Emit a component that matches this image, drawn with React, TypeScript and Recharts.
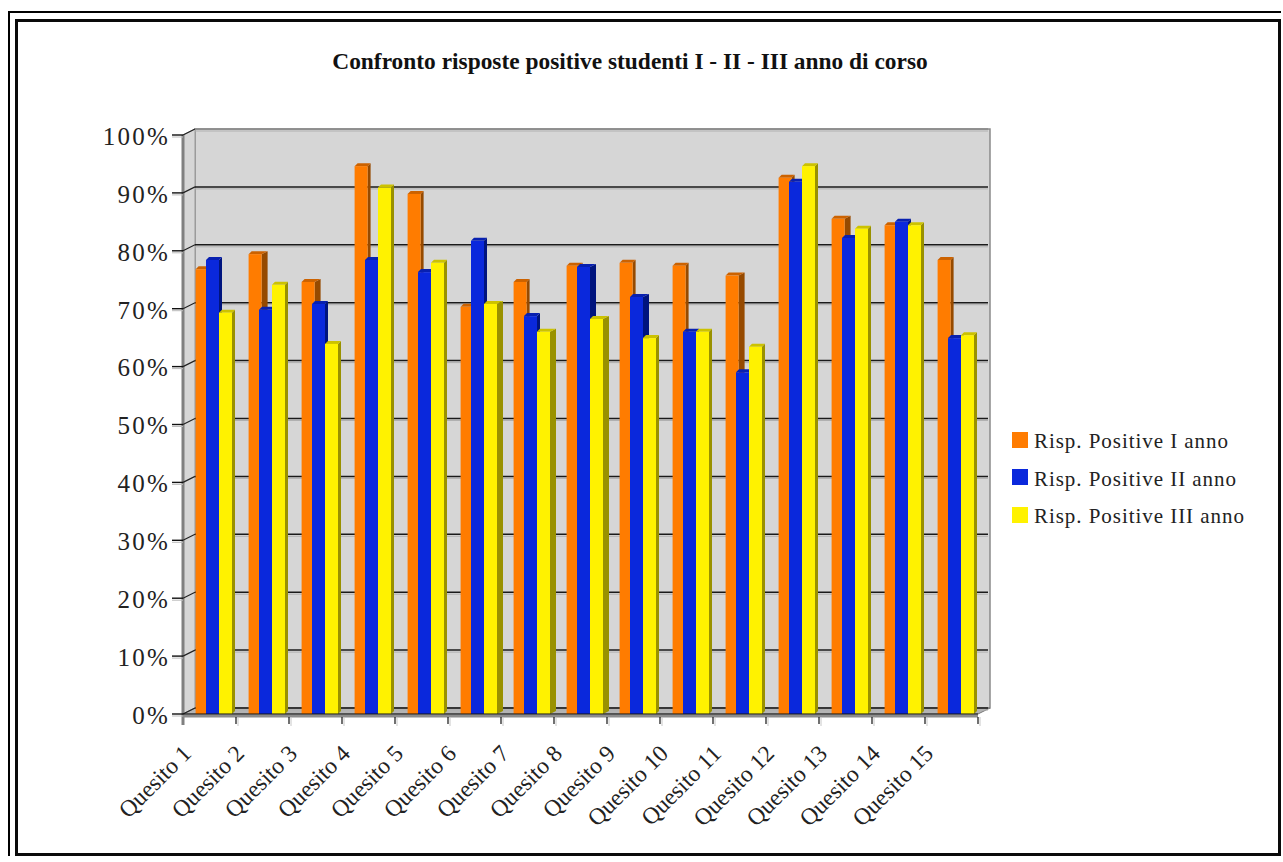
import React from 'react';
import { BarChart, Bar, XAxis, YAxis, CartesianGrid, Legend, usePlotArea } from 'recharts';

const categories = ['Quesito 1', 'Quesito 2', 'Quesito 3', 'Quesito 4', 'Quesito 5', 'Quesito 6', 'Quesito 7', 'Quesito 8', 'Quesito 9', 'Quesito 10', 'Quesito 11', 'Quesito 12', 'Quesito 13', 'Quesito 14', 'Quesito 15'];
const annoI = [76.3, 78.9, 74.1, 94.1, 89.3, 69.8, 74.1, 76.9, 77.4, 76.9, 75.2, 92.1, 85, 83.9, 77.9];
const annoII = [77.9, 69.3, 70.3, 77.9, 75.8, 81.2, 68.2, 76.7, 71.5, 65.5, 58.5, 91.4, 81.7, 84.5, 64.4];
const annoIII = [68.8, 73.6, 63.4, 90.4, 77.4, 70.3, 65.5, 67.7, 64.4, 65.5, 62.9, 94.1, 83.3, 83.9, 64.9];
const percentTicks = [0, 10, 20, 30, 40, 50, 60, 70, 80, 90, 100];

const data = categories.map((name, i) => ({ name, annoI: annoI[i], annoII: annoII[i], annoIII: annoIII[i] }));

const FONT = '"Liberation Serif", serif';
const DEPTH_X = 12;
const DEPTH_Y = 6;
const TEXT = '#222';

// the original renderer draws some side faces twice as wide
const wideSidesI = [1, 2, 10, 12];
const wideSidesII = [7, 8];
const wideSidesIII = [5, 6, 7];

const bar3d = (front: string, top: string, side: string, dx: number, wide: number[]) => (props: any) => {
  const { x, y, width, height, index } = props;
  const left = x + dx;
  const right = left + width;
  const yTop = y - 3;
  const yBottom = y + height;
  const d = wide.includes(index) ? 6 : 3;
  return (
    <g>
      <polygon points={`${right},${yTop} ${right + d},${yTop - 3} ${right + d},${yBottom - 3} ${right},${yBottom}`} fill={side} />
      <polygon points={`${left},${yTop} ${left + 3},${yTop - 3} ${right + d},${yTop - 3} ${right},${yTop}`} fill={top} />
      <rect x={left} y={yTop} width={width} height={yBottom - yTop} fill={front} />
    </g>
  );
};

const Walls = () => {
  const plot = usePlotArea();
  if (!plot) return null;
  const { x, y, width, height } = plot;
  const r = x + width;
  const b = y + height;
  return (
    <g>
      <rect x={x + DEPTH_X} y={y - DEPTH_Y} width={width} height={height} fill="#d6d6d6" stroke="#8a8a8a" strokeWidth={1.5} />
      <polygon points={`${x},${y} ${x + DEPTH_X},${y - DEPTH_Y} ${x + DEPTH_X},${b - DEPTH_Y} ${x},${b}`} fill="#d6d6d6" stroke="#9a9a9a" />
      <polygon points={`${x},${b} ${x + DEPTH_X},${b - DEPTH_Y} ${r + DEPTH_X},${b - DEPTH_Y} ${r},${b}`} fill="#b4b4b4" stroke="#777" />
      <line x1={x} y1={y} x2={x} y2={b + 11} stroke="#808080" strokeWidth={3} />
      <line x1={x} y1={b + 2} x2={r} y2={b + 2} stroke="#8c8c8c" strokeWidth={3} />
    </g>
  );
};

// the walls go in the grid's first line so the lines stay on top of them
const GridLine = (props: any) => {
  const { x1, x2, y1, y, index } = props;
  const isTop = y1 === y;
  return (
    <g key={index}>
      {index === 0 && <Walls />}
      <line x1={x1 - 11} y1={y1 + 2} x2={x1} y2={y1 + 2} stroke="#bbb" strokeWidth={1} />
      <line x1={x1} y1={y1} x2={x1 + DEPTH_X} y2={y1 - DEPTH_Y} stroke="#222" strokeWidth={1.2} />
      <line x1={x1 + DEPTH_X} y1={y1 - DEPTH_Y + 2} x2={x2 + DEPTH_X - 2} y2={y1 - DEPTH_Y + 2} stroke="#b0b0b0" strokeWidth={1} />
      <line x1={x1 + DEPTH_X} y1={y1 - DEPTH_Y} x2={x2 + DEPTH_X - 2} y2={y1 - DEPTH_Y} stroke={isTop ? '#8a8a8a' : '#1a1a1a'} strokeWidth={1.5} />
    </g>
  );
};

const CategoryTick = (props: any) => {
  const { x, y, payload } = props;
  const step = 53;
  const tx = x - 17;
  const ty = y + 33;
  return (
    <g>
      <line x1={x + step / 2 + 2} y1={y - 5} x2={x + step / 2 + 2} y2={y + 4} stroke="#c8c8c8" strokeWidth={1} />
      <line x1={x + step / 2} y1={y - 5} x2={x + step / 2} y2={y + 2} stroke="#111" strokeWidth={1.2} />
      <text x={tx} y={ty} textAnchor="end" transform={`rotate(-45 ${tx} ${ty})`} fontFamily={FONT} fontSize={23.5} fill={TEXT}>
        {payload.value}
      </text>
    </g>
  );
};

const LegendBox = (props: any) => (
  <div style={{ fontFamily: FONT, fontSize: 21, color: TEXT, letterSpacing: 0.95 }}>
    {props.payload.map((item: any) => (
      <div key={item.value} style={{ display: 'flex', alignItems: 'center', height: 37.5 }}>
        <span style={{ width: 16, height: 16, background: item.color, marginRight: 6, flex: 'none' }} />
        <span style={{ whiteSpace: 'nowrap', position: 'relative', top: 2 }}>{item.value}</span>
      </div>
    ))}
  </div>
);

const App: React.FC = () => {
  return (
    <div style={{ position: 'absolute', left: 0, top: 0, width: 1283, height: 862, background: '#fff', overflow: 'hidden' }}>
      <div style={{ position: 'absolute', left: 8, top: 11, width: 1273, height: 845, boxSizing: 'border-box', borderLeft: '2px solid #000', borderTop: '2px solid #000' }} />
      <div style={{ position: 'absolute', left: 15, top: 19, width: 1266, height: 837, boxSizing: 'border-box', border: '3px solid #0a0a0a' }} />
      <BarChart
        width={1283}
        height={862}
        data={data}
        barSize={13}
        barGap={0}
        margin={{ top: 135, right: 33, bottom: 0, left: 0 }}
        style={{ position: 'absolute', left: 0, top: 0 }}
      >
        <CartesianGrid vertical={false} horizontal={GridLine as any} syncWithTicks />
        <text x={630} y={69} textAnchor="middle" fontFamily={FONT} fontSize={23.4} fontWeight="bold" fill="#111">
          Confronto risposte positive studenti I - II - III anno di corso
        </text>
        <XAxis dataKey="name" interval={0} height={148} axisLine={{ stroke: '#111', strokeWidth: 1.2 }} tickLine={false} tick={CategoryTick as any} />
        <YAxis
          domain={[0, 100]}
          ticks={percentTicks}
          width={183}
          tickFormatter={(v: number) => `${v}%`}
          tickSize={11}
          tickMargin={2}
          axisLine={false}
          tickLine={{ stroke: '#111', strokeWidth: 1.4 }}
          tick={{ fontFamily: FONT, fontSize: 25, fill: TEXT, letterSpacing: 2.2, dy: 1 }}
        />
        <Legend
          layout="vertical"
          align="right"
          verticalAlign="top"
          width={272}
          content={LegendBox as any}
          wrapperStyle={{ left: 1012, top: 421, right: 'auto', bottom: 'auto' }}
        />
        <Bar dataKey="annoI" name="Risp. Positive I anno" fill="#ff7c00" isAnimationActive={false} shape={bar3d('#ff7c00', '#cc6200', '#964a00', 5.6, wideSidesI)} />
        <Bar dataKey="annoII" name="Risp. Positive II anno" fill="#0a28dc" isAnimationActive={false} shape={bar3d('#0a28dc', '#0820b0', '#00147e', 3, wideSidesII)} />
        <Bar dataKey="annoIII" name="Risp. Positive III anno" fill="#fff200" isAnimationActive={false} shape={bar3d('#fff200', '#ccc200', '#999100', 3, wideSidesIII)} />
      </BarChart>
    </div>
  );
};

export default App;
